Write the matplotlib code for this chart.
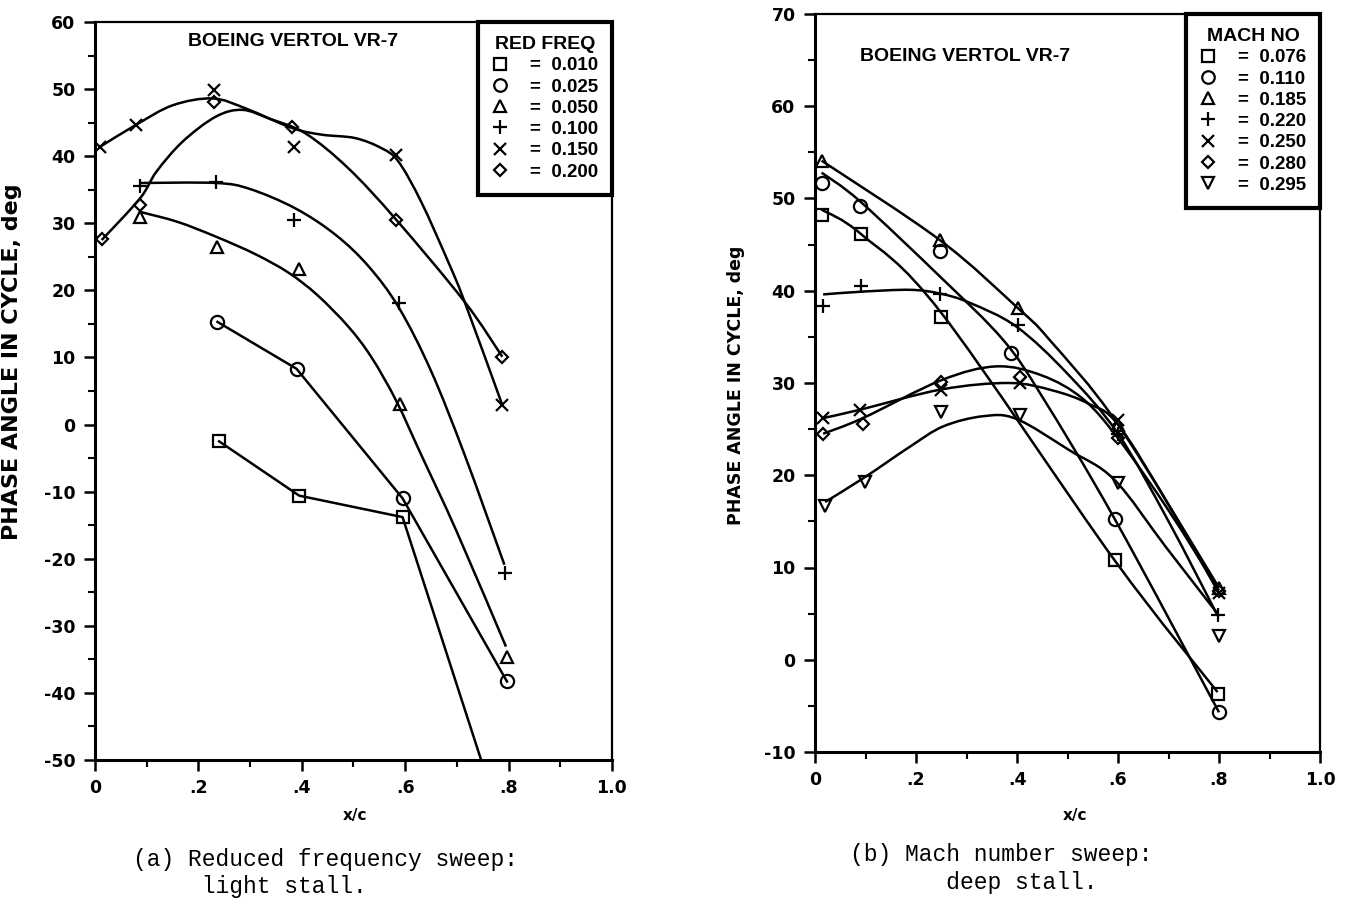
import numpy as np
import matplotlib.pyplot as plt
from matplotlib.lines import Line2D
from matplotlib.path import Path
from matplotlib.patches import PathPatch
from matplotlib.ticker import MultipleLocator

plt.rcParams['font.family'] = ['DejaVu Sans']
plt.rcParams['axes.unicode_minus'] = False

xtick_vals = [0, 0.2, 0.4, 0.6, 0.8, 1.0]
xtick_labels = ['0', '.2', '.4', '.6', '.8', '1.0']

# (a) reduced frequency sweep: light stall
a_labels = ['0.010', '0.025', '0.050', '0.100', '0.150', '0.200']

a_sq_x = [0.24, 0.395, 0.595]
a_sq_y = [-2.5, -10.6, -13.8]
a_sq_cx = [0.24, 0.395, 0.595, 0.747]
a_sq_cy = [-2.5, -10.6, -13.8, -50.0]

a_ci_x = [0.237, 0.39, 0.595, 0.797]
a_ci_y = [15.3, 8.3, -11.0, -38.3]
a_ci_cx = a_ci_x
a_ci_cy = a_ci_y

a_tr_x = [0.087, 0.237, 0.395, 0.59, 0.798]
a_tr_y = [31.0, 26.5, 23.2, 3.0, -34.6]
a_tr_cx = [0.087, 0.16, 0.234, 0.31, 0.375, 0.43, 0.49, 0.535, 0.583, 0.631, 0.7, 0.795]
a_tr_cy = [31.7, 30.2, 28.0, 25.4, 22.6, 19.3, 14.6, 10.0, 3.5, -4.5, -16.0, -33.1]

a_pl_x = [0.087, 0.234, 0.385, 0.588, 0.794]
a_pl_y = [35.6, 36.2, 30.5, 18.1, -22.2]
a_pl_cx = [0.087, 0.234, 0.3, 0.388, 0.465, 0.529, 0.588, 0.65, 0.715, 0.792]
a_pl_cy = [36.0, 36.0, 35.1, 32.2, 28.3, 23.6, 17.4, 8.0, -4.5, -20.9]

a_x_x = [0.01, 0.08, 0.231, 0.385, 0.583, 0.788]
a_x_y = [41.4, 44.7, 49.9, 41.4, 40.2, 2.9]
a_x_cx = [0.01, 0.08, 0.151, 0.228, 0.292, 0.381, 0.439, 0.503, 0.554, 0.587,
          0.631, 0.683, 0.715, 0.788]
a_x_cy = [41.4, 44.7, 47.6, 48.6, 47.1, 44.2, 43.2, 42.7, 41.2, 39.2,
          33.2, 24.3, 18.3, 2.9]

a_di_x = [0.013, 0.087, 0.231, 0.381, 0.583, 0.788]
a_di_y = [27.6, 32.7, 48.1, 44.4, 30.5, 10.1]
a_di_cx = [0.013, 0.087, 0.119, 0.17, 0.234, 0.285, 0.337, 0.407, 0.49, 0.583, 0.715, 0.788]
a_di_cy = [27.5, 33.7, 37.7, 42.2, 45.9, 46.9, 45.6, 43.4, 38.2, 30.5, 18.3, 10.1]

# (b) Mach number sweep: deep stall
b_labels = ['0.076', '0.110', '0.185', '0.220', '0.250', '0.280', '0.295']

b_sq_x = [0.013, 0.092, 0.25, 0.593, 0.797]
b_sq_y = [48.2, 46.2, 37.2, 10.8, -3.7]
b_sq_cx = [0.013, 0.092, 0.25, 0.593, 0.797]
b_sq_cy = [48.8, 46.1, 37.6, 10.8, -3.5]

b_ci_x = [0.013, 0.089, 0.247, 0.389, 0.593, 0.8]
b_ci_y = [51.7, 49.2, 44.3, 33.2, 15.3, -5.7]
b_ci_cx = [0.013, 0.089, 0.25, 0.372, 0.45, 0.593, 0.8]
b_ci_cy = [52.8, 49.7, 41.4, 34.7, 28.5, 15.3, -5.7]

b_tr_x = [0.013, 0.247, 0.402, 0.6, 0.8]
b_tr_y = [54.1, 45.5, 38.1, 25.5, 7.8]
b_tr_cx = [0.013, 0.247, 0.402, 0.464, 0.6, 0.8]
b_tr_cy = [54.1, 45.5, 38.1, 34.7, 25.5, 7.8]

b_pl_x = [0.016, 0.092, 0.247, 0.402, 0.6, 0.797]
b_pl_y = [38.3, 40.5, 39.7, 36.3, 24.5, 4.8]
b_pl_cx = [0.016, 0.092, 0.188, 0.247, 0.306, 0.399, 0.5, 0.6, 0.7, 0.797]
b_pl_cy = [39.6, 39.9, 40.1, 39.7, 38.7, 36.1, 31.0, 24.5, 15.0, 4.8]

b_x_x = [0.016, 0.089, 0.25, 0.405, 0.6, 0.8]
b_x_y = [26.2, 27.1, 29.2, 30.0, 26.0, 7.2]
b_x_cx = [0.016, 0.089, 0.25, 0.385, 0.47, 0.54, 0.6, 0.7, 0.8]
b_x_cy = [26.2, 27.1, 29.3, 30.0, 29.2, 27.8, 25.5, 16.8, 7.2]

b_di_x = [0.016, 0.095, 0.25, 0.405, 0.6, 0.8]
b_di_y = [24.5, 25.6, 30.1, 30.7, 24.0, 7.5]
b_di_cx = [0.016, 0.095, 0.25, 0.359, 0.45, 0.53, 0.6, 0.7, 0.8]
b_di_cy = [24.5, 26.2, 30.3, 31.8, 30.8, 28.3, 24.0, 16.2, 7.5]

b_td_x = [0.02, 0.099, 0.25, 0.405, 0.6, 0.8]
b_td_y = [16.7, 19.3, 26.9, 26.5, 19.2, 2.6]
b_td_cx = [0.02, 0.099, 0.188, 0.254, 0.333, 0.399, 0.504, 0.593, 0.695, 0.797]
b_td_cy = [17.1, 19.8, 23.1, 25.3, 26.4, 26.1, 22.7, 19.5, 12.2, 5.0]

markers = ['s', 'o', '^', '+', 'x', 'D', 'v']
msizes = [9, 9.5, 9, 10, 9, 6.5, 9]

# (markers x, markers y, curve x, curve y, faired curve?)
a_series = [(a_sq_x, a_sq_y, a_sq_cx, a_sq_cy, False),
            (a_ci_x, a_ci_y, a_ci_cx, a_ci_cy, False),
            (a_tr_x, a_tr_y, a_tr_cx, a_tr_cy, True),
            (a_pl_x, a_pl_y, a_pl_cx, a_pl_cy, True),
            (a_x_x, a_x_y, a_x_cx, a_x_cy, True),
            (a_di_x, a_di_y, a_di_cx, a_di_cy, True)]
b_series = [(b_sq_x, b_sq_y, b_sq_cx, b_sq_cy, True),
            (b_ci_x, b_ci_y, b_ci_cx, b_ci_cy, True),
            (b_tr_x, b_tr_y, b_tr_cx, b_tr_cy, True),
            (b_pl_x, b_pl_y, b_pl_cx, b_pl_cy, True),
            (b_x_x, b_x_y, b_x_cx, b_x_cy, True),
            (b_di_x, b_di_y, b_di_cx, b_di_cy, True),
            (b_td_x, b_td_y, b_td_cx, b_td_cy, True)]


def faired_path(xs, ys):
    # draw the traced points as one smooth bezier path (Catmull-Rom handles)
    p = np.column_stack([xs, ys]).astype(float)
    n = len(p)
    verts = [p[0]]
    codes = [Path.MOVETO]
    for i in range(n - 1):
        p0 = p[i - 1] if i > 0 else p[i]
        p3 = p[i + 2] if i + 2 < n else p[i + 1]
        c1 = p[i] + (p[i + 1] - p0) / 6.0
        c2 = p[i + 1] - (p3 - p[i]) / 6.0
        verts += [c1, c2, p[i + 1]]
        codes += [Path.CURVE4] * 3
    return Path(verts, codes)


fig = plt.figure(figsize=(13.55, 9.08), dpi=100)
axa = fig.add_axes([0.0701, 0.163, 0.3815, 0.8128])
axb = fig.add_axes([0.6015, 0.1718, 0.3727, 0.8128])

leg_font = {'family': 'Liberation Sans', 'weight': 'bold', 'size': 13.5}


def draw_panel(ax, series, labels, title, ylim, ystep, lab_size, lab_xy, xlab_xy,
               name_xy):
    for i, (mx, my, cx, cy, faired) in enumerate(series):
        if faired:
            ax.add_patch(PathPatch(faired_path(cx, cy), fill=False, ec='black',
                                   lw=1.8, zorder=2))
        else:
            ax.plot(cx, cy, color='black', lw=1.8, zorder=2)
        ax.plot(mx, my, linestyle='none', marker=markers[i], ms=msizes[i],
                mfc='none', mec='black', mew=1.6, zorder=3)

    ax.set_xlim(0, 1.0)
    ax.set_ylim(*ylim)
    ax.set_xticks(xtick_vals)
    ax.set_xticklabels(xtick_labels)
    ax.set_yticks(np.arange(ylim[0], ylim[1] + 1, ystep))
    ax.xaxis.set_minor_locator(MultipleLocator(0.1))
    ax.yaxis.set_minor_locator(MultipleLocator(5))
    ax.tick_params(which='major', direction='out', length=8, width=1.8,
                   labelsize=12.5, pad=6)
    ax.tick_params(which='minor', direction='out', length=5, width=1.5)
    for t in ax.get_xticklabels() + ax.get_yticklabels():
        t.set_fontweight('bold')
    for side in ['left', 'bottom']:
        ax.spines[side].set_linewidth(2.2)
    for side in ['top', 'right']:
        ax.spines[side].set_linewidth(1.6)

    ax.set_ylabel('PHASE ANGLE IN CYCLE, deg', fontsize=lab_size, fontweight='bold')
    ax.yaxis.set_label_coords(*lab_xy)
    ax.set_xlabel('x/c', fontsize=11, fontweight='bold')
    ax.xaxis.set_label_coords(*xlab_xy)

    ax.text(name_xy[0], name_xy[1], 'BOEING VERTOL VR-7', transform=ax.transAxes,
            ha='center', va='center', family='Liberation Sans', weight='bold',
            fontsize=14)

    handles = [Line2D([], [], linestyle='none', marker=markers[i], ms=msizes[i] * 0.95,
                      mfc='none', mec='black', mew=1.6) for i in range(len(labels))]
    leg = ax.legend(handles, ['=  ' + s for s in labels], title=title,
                    loc='upper right', bbox_to_anchor=(1.0, 1.0), borderaxespad=0,
                    prop=leg_font, title_fontproperties=dict(leg_font, size=14),
                    fancybox=False, edgecolor='black', framealpha=1,
                    handlelength=0.8, handletextpad=1.2, labelspacing=0.22,
                    borderpad=0.75)
    leg.get_frame().set_linewidth(3)


draw_panel(axa, a_series, a_labels, 'RED FREQ', (-50, 60), 10, 16,
           (-0.141, 0.54), (0.503, -0.065), (0.383, 0.973))
draw_panel(axb, b_series, b_labels, 'MACH NO', (-10, 70), 10, 12.5,
           (-0.139, 0.497), (0.515, -0.076), (0.297, 0.942))

cap_font = dict(family='Liberation Mono', fontsize=16.5, ha='left', va='top',
                linespacing=1.25)
fig.text(133 / 1355, 1 - 848 / 908, '(a) Reduced frequency sweep:\n     light stall.',
         **cap_font)
fig.text(850 / 1355, 1 - 843 / 908, '(b) Mach number sweep:\n       deep stall.',
         **cap_font)

fig.savefig('out.png', dpi=100)
